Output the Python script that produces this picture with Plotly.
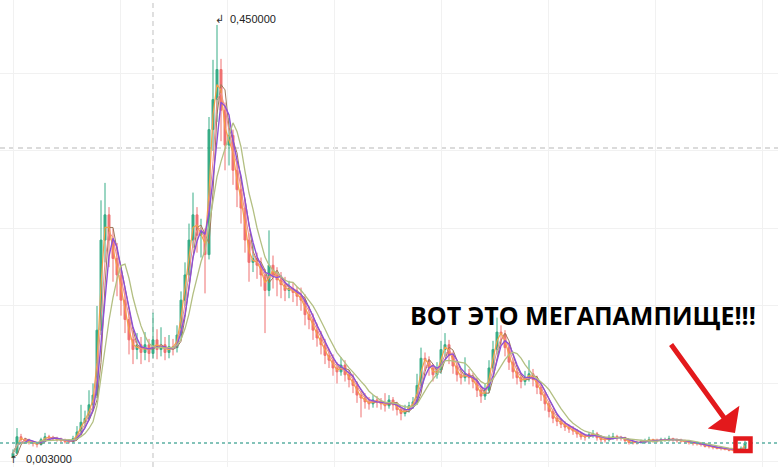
import plotly.graph_objects as go
import pandas as pd

# ---- data ----
close = [0.008, 0.025, 0.022, 0.021, 0.020, 0.018, 0.017, 0.022, 0.025, 0.024,
         0.023, 0.022, 0.021, 0.020, 0.020, 0.023, 0.030, 0.040, 0.044, 0.058,
         0.068, 0.135, 0.228, 0.254, 0.228, 0.209, 0.192, 0.166, 0.146, 0.125,
         0.115, 0.120, 0.112, 0.120, 0.111, 0.125, 0.115, 0.120, 0.112, 0.118,
         0.117, 0.130, 0.166, 0.192, 0.228, 0.254, 0.233, 0.236, 0.213, 0.342,
         0.373, 0.404, 0.362, 0.326, 0.336, 0.300, 0.280, 0.261, 0.228, 0.205,
         0.209, 0.202, 0.192, 0.176, 0.202, 0.192, 0.187, 0.182, 0.176, 0.178,
         0.174, 0.170, 0.166, 0.151, 0.146, 0.135, 0.127, 0.120, 0.109, 0.104,
         0.096, 0.092, 0.099, 0.089, 0.084, 0.078, 0.068, 0.065, 0.061, 0.059,
         0.063, 0.061, 0.059, 0.057, 0.063, 0.058, 0.053, 0.049, 0.053, 0.057,
         0.061, 0.078, 0.106, 0.104, 0.096, 0.089, 0.094, 0.115, 0.120, 0.109,
         0.098, 0.089, 0.086, 0.090, 0.086, 0.082, 0.073, 0.067, 0.073, 0.096,
         0.115, 0.133, 0.131, 0.117, 0.102, 0.092, 0.086, 0.082, 0.086, 0.090,
         0.084, 0.076, 0.069, 0.059, 0.051, 0.044, 0.041, 0.038, 0.035, 0.033,
         0.031, 0.028, 0.025, 0.025, 0.027, 0.028, 0.024, 0.022, 0.022, 0.024,
         0.025, 0.024, 0.024, 0.021, 0.019, 0.019, 0.019, 0.020, 0.021, 0.022,
         0.021, 0.021, 0.022, 0.022, 0.023, 0.022, 0.021, 0.021, 0.020, 0.019,
         0.018, 0.018, 0.017, 0.015, 0.015, 0.014, 0.013, 0.013, 0.012, 0.011,
         0.011, 0.010, 0.013, 0.0186]

high = [0.012, 0.034, 0.028, 0.024, 0.023, 0.021, 0.020, 0.024, 0.029, 0.027,
        0.026, 0.025, 0.024, 0.023, 0.022, 0.026, 0.036, 0.058, 0.052, 0.073,
        0.080, 0.160, 0.269, 0.287, 0.262, 0.240, 0.225, 0.200, 0.178, 0.155,
        0.135, 0.132, 0.128, 0.133, 0.126, 0.153, 0.136, 0.138, 0.128, 0.130,
        0.126, 0.140, 0.175, 0.205, 0.245, 0.277, 0.262, 0.250, 0.240, 0.355,
        0.414, 0.450, 0.415, 0.370, 0.354, 0.342, 0.310, 0.290, 0.270, 0.235,
        0.225, 0.215, 0.210, 0.198, 0.238, 0.212, 0.200, 0.195, 0.190, 0.186,
        0.184, 0.180, 0.179, 0.172, 0.160, 0.152, 0.142, 0.134, 0.126, 0.116,
        0.110, 0.102, 0.107, 0.104, 0.094, 0.090, 0.082, 0.072, 0.070, 0.066,
        0.068, 0.067, 0.065, 0.070, 0.068, 0.066, 0.061, 0.056, 0.058, 0.061,
        0.066, 0.090, 0.117, 0.112, 0.108, 0.100, 0.102, 0.124, 0.132, 0.125,
        0.113, 0.102, 0.094, 0.107, 0.095, 0.091, 0.086, 0.078, 0.080, 0.104,
        0.124, 0.148, 0.140, 0.135, 0.122, 0.106, 0.096, 0.091, 0.093, 0.104,
        0.095, 0.088, 0.080, 0.072, 0.062, 0.054, 0.047, 0.044, 0.041, 0.038,
        0.036, 0.033, 0.030, 0.028, 0.030, 0.032, 0.030, 0.026, 0.025, 0.027,
        0.029, 0.027, 0.026, 0.025, 0.022, 0.021, 0.021, 0.022, 0.023, 0.025,
        0.023, 0.023, 0.024, 0.024, 0.026, 0.024, 0.023, 0.023, 0.022, 0.021,
        0.020, 0.020, 0.019, 0.018, 0.017, 0.016, 0.015, 0.015, 0.014, 0.013,
        0.013, 0.012, 0.015, 0.021]

low = [0.003, 0.007, 0.019, 0.018, 0.017, 0.015, 0.014, 0.016, 0.021, 0.022,
       0.021, 0.020, 0.019, 0.018, 0.018, 0.019, 0.022, 0.028, 0.035, 0.042,
       0.052, 0.065, 0.130, 0.205, 0.200, 0.185, 0.170, 0.150, 0.132, 0.110,
       0.100, 0.105, 0.100, 0.104, 0.102, 0.106, 0.105, 0.108, 0.104, 0.106,
       0.109, 0.112, 0.126, 0.160, 0.185, 0.220, 0.215, 0.210, 0.173, 0.208,
       0.320, 0.350, 0.330, 0.300, 0.305, 0.285, 0.262, 0.245, 0.215, 0.185,
       0.195, 0.188, 0.180, 0.132, 0.170, 0.178, 0.170, 0.168, 0.165, 0.168,
       0.164, 0.160, 0.155, 0.140, 0.136, 0.125, 0.118, 0.110, 0.100, 0.096,
       0.088, 0.080, 0.088, 0.082, 0.076, 0.070, 0.060, 0.045, 0.054, 0.053,
       0.055, 0.055, 0.053, 0.051, 0.054, 0.052, 0.047, 0.042, 0.046, 0.050,
       0.054, 0.058, 0.075, 0.095, 0.088, 0.082, 0.085, 0.090, 0.108, 0.100,
       0.090, 0.082, 0.079, 0.082, 0.079, 0.075, 0.066, 0.060, 0.063, 0.070,
       0.092, 0.110, 0.120, 0.108, 0.094, 0.085, 0.079, 0.075, 0.078, 0.082,
       0.077, 0.069, 0.062, 0.052, 0.045, 0.039, 0.036, 0.034, 0.031, 0.029,
       0.027, 0.024, 0.022, 0.021, 0.023, 0.024, 0.021, 0.019, 0.019, 0.020,
       0.022, 0.021, 0.021, 0.019, 0.017, 0.017, 0.017, 0.018, 0.018, 0.019,
       0.019, 0.019, 0.019, 0.020, 0.020, 0.020, 0.019, 0.019, 0.018, 0.017,
       0.016, 0.016, 0.015, 0.014, 0.013, 0.012, 0.012, 0.011, 0.011, 0.010,
       0.010, 0.009, 0.009, 0.012]

first_open = 0.004
open_ = [first_open] + close[:-1]
idx = list(range(len(close)))

ma_specs = [(2, "#a0785a", 1.0), (2, "#f5a04a", 1.2), (3, "#f28a8a", 1.0),
            (4, "#8e4fd6", 1.4), (7, "#b3bf82", 1.3)]

peak_label = "0,450000"
low_label = "0,003000"
headline = "ВОТ ЭТО МЕГАПАМПИЩЕ!!!"

W, H = 778, 467
# pixel geometry of the reference chart
x_px0, x_step = 13.0, 4.0
y_zero_px, px_per_unit = 461.0, 969.0

xr = [(0 - x_px0) / x_step, (W - x_px0) / x_step]
yr = [(y_zero_px - H) / px_per_unit, y_zero_px / px_per_unit]

fig = go.Figure()
fig.add_trace(go.Candlestick(
    x=idx, open=open_, high=high, low=low, close=close,
    increasing=dict(line=dict(color="#22a57a", width=1), fillcolor="#22a57a"),
    decreasing=dict(line=dict(color="#ef6262", width=1), fillcolor="#ef6262"),
    whiskerwidth=0, opacity=0.9, hoverinfo="skip", showlegend=False))

s = pd.Series(close)
for k, (per, col, wd) in enumerate(ma_specs):
    vals = s.rolling(per, min_periods=1).mean()
    if k == 0:
        vals = pd.Series(open_).rolling(per, min_periods=1).mean()
    fig.add_trace(go.Scatter(x=idx, y=vals, mode="lines",
                             line=dict(color=col, width=wd),
                             hoverinfo="skip", showlegend=False))

def px2x(p):
    return p / W

def px2y(p):
    return 1 - p / H

shapes = [
    # crosshair
    dict(type="line", xref="paper", yref="paper", x0=px2x(153), x1=px2x(153), y0=0, y1=1,
         line=dict(color="#cfcfcf", width=1.3, dash="5px,4px"), layer="below"),
    dict(type="line", xref="paper", yref="paper", x0=0, x1=1, y0=px2y(148), y1=px2y(148),
         line=dict(color="#cfcfcf", width=1.3, dash="5px,4px"), layer="below"),
    # last price line
    dict(type="line", xref="paper", yref="y", x0=0, x1=1, y0=close[-1], y1=close[-1],
         line=dict(color="#5bb0a2", width=1.5, dash="dot")),
    # red box
    dict(type="rect", xref="paper", yref="paper", x0=px2x(735.5), x1=px2x(750.5),
         y0=px2y(451), y1=px2y(438.5), line=dict(color="#e3191c", width=4.5)),
]

annotations = [
    dict(x=px2x(219), y=px2y(20), xref="paper", yref="paper", text="↲", showarrow=False,
         xanchor="center", yanchor="middle",
         font=dict(family="DejaVu Sans", size=11, color="#333")),
    dict(x=px2x(228), y=px2y(19), xref="paper", yref="paper", text=peak_label,
         showarrow=False, xanchor="left", yanchor="middle",
         font=dict(family="Liberation Sans", size=11, color="#222")),
    dict(x=px2x(13), y=px2y(459), xref="paper", yref="paper", text="↑",
         showarrow=False, xanchor="center", yanchor="middle",
         font=dict(family="DejaVu Sans", size=10, color="#333")),
    dict(x=px2x(24), y=px2y(459), xref="paper", yref="paper", text=low_label,
         showarrow=False, xanchor="left", yanchor="middle",
         font=dict(family="Liberation Sans", size=11, color="#222")),
    dict(x=px2x(583), y=px2y(315), xref="paper", yref="paper",
         text="<b>" + headline + "</b>", showarrow=False,
         xanchor="center", yanchor="middle",
         font=dict(family="Open Sans", size=25, color="#000")),
    dict(x=px2x(735), y=px2y(433), xref="paper", yref="paper", text="",
         showarrow=True, ax=-65, ay=-90, arrowcolor="#e3191c", arrowwidth=5,
         arrowhead=1, arrowsize=1.3, standoff=0),
]

fig.update_layout(
    width=W, height=H, margin=dict(l=0, r=0, t=0, b=0, pad=0, autoexpand=False),
    paper_bgcolor="white", plot_bgcolor="white",
    xaxis=dict(range=xr, showticklabels=False, showgrid=True, gridcolor="#f1f1f1",
               tick0=0, dtick=26.75, zeroline=False, rangeslider=dict(visible=False),
               fixedrange=True, automargin=False),
    yaxis=dict(range=yr, showticklabels=False, showgrid=True, gridcolor="#f1f1f1",
               tick0=0, dtick=0.08, zeroline=False, fixedrange=True, automargin=False),
    shapes=shapes, annotations=annotations, showlegend=False,
)

fig.write_html("out.html", config={"displayModeBar": False},
               post_script="document.body.style.margin='0';document.body.style.overflow='hidden';")
